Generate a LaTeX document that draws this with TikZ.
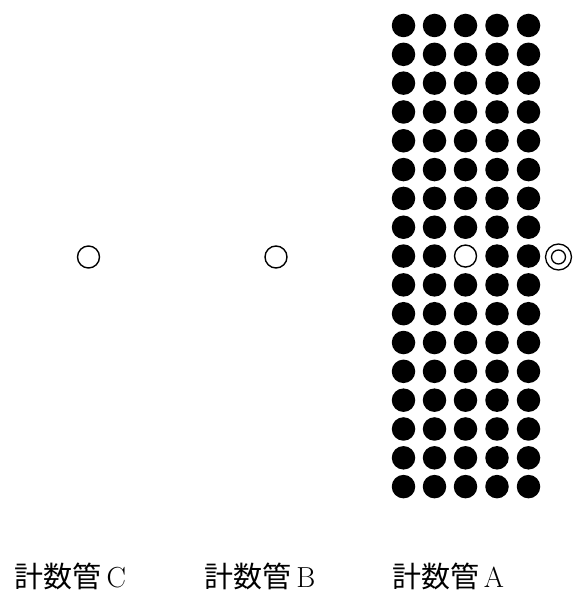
\documentclass[tikz,border=0pt]{standalone}
\usepackage{fontspec}
\newfontfamily\cjk{Noto Sans CJK JP}
\begin{document}
\begin{tikzpicture}[x=1pt,y=-1pt,
  fulldot/.style={circle,fill=black,inner sep=0pt,minimum size=23.5pt},
  opendot/.style={circle,draw=black,line width=1.4pt,fill=white,inner sep=0pt,minimum size=22pt},
  ringout/.style={circle,draw=black,line width=1.3pt,inner sep=0pt,minimum size=26pt},
  ringin/.style={circle,draw=black,line width=1.3pt,inner sep=0pt,minimum size=14pt},
  lab/.style={inner sep=0pt,font=\fontsize{29}{32}\selectfont}]
\useasboundingbox (0,0) rectangle (572,593);
\foreach \r in {0,...,16}{
  \foreach \c/\x in {0/403.5,1/434.5,2/465.5,3/497,4/528.5}{
    \pgfmathtruncatemacro{\mid}{(\r==8 && \c==2) ? 1 : 0}
    \ifnum\mid=1
      \node[opendot] (d-\r-\c) at (\x,{25.5+28.82*\r}) {};
    \else
      \node[fulldot] (d-\r-\c) at (\x,{25.5+28.82*\r}) {};
    \fi
  }
}
\node[ringout] (ringA) at (558.5,257) {};
\node[ringin] (ringAin) at (558.5,257) {};
\node[opendot] (oC) at (88.5,257) {};
\node[opendot] (oB) at (276,257) {};
\node[lab] (labC) at (70.5,576) {{\cjk 計数管}\,C};
\node[lab] (labB) at (260,576) {{\cjk 計数管}\,B};
\node[lab] (labA) at (448,576) {{\cjk 計数管}\,A};
\end{tikzpicture}
\end{document}
